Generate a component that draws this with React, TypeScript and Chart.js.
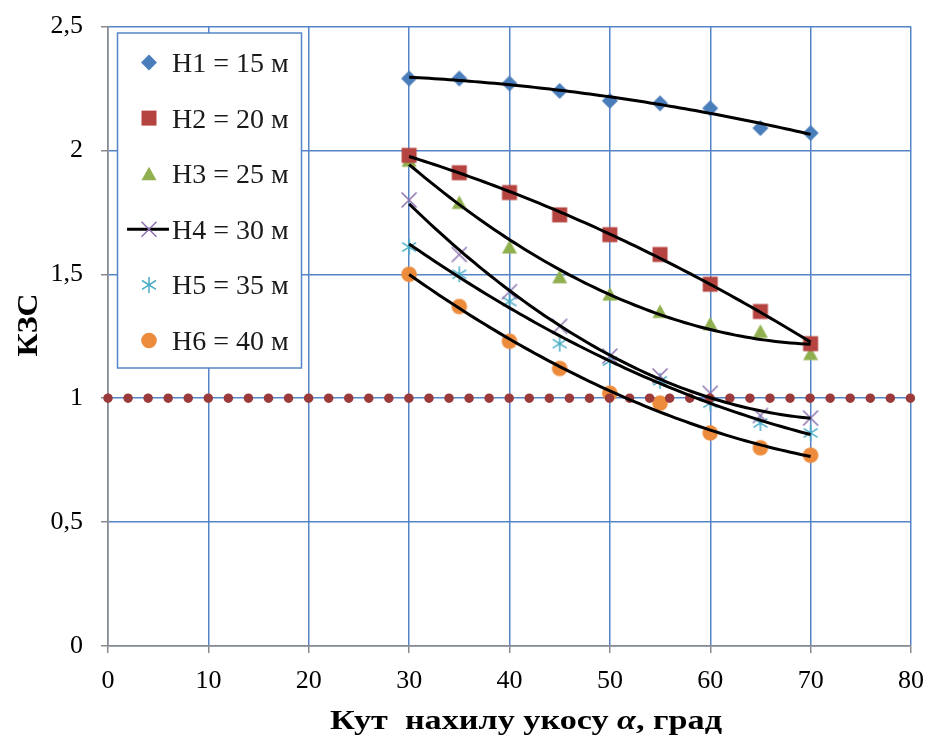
import React, { useEffect, useRef } from 'react';
import { Chart, registerables } from 'chart.js';

Chart.register(...registerables);

// ---------- data ----------
const angles = [30, 35, 40, 45, 50, 55, 60, 65, 70];
const h1 = [2.29, 2.29, 2.27, 2.24, 2.2, 2.19, 2.17, 2.09, 2.07];
const h2 = [1.98, 1.91, 1.83, 1.74, 1.66, 1.58, 1.46, 1.35, 1.22];
const h3 = [1.96, 1.79, 1.61, 1.49, 1.42, 1.35, 1.3, 1.27, 1.18];
const h4 = [1.8, 1.58, 1.43, 1.29, 1.17, 1.09, 1.02, 0.93, 0.92];
const h5 = [1.61, 1.5, 1.39, 1.22, 1.15, 1.07, 0.98, 0.9, 0.86];
const h6 = [1.5, 1.37, 1.23, 1.12, 1.02, 0.98, 0.86, 0.8, 0.77];
const seriesLabels = ['H1 = 15 м', 'H2 = 20 м', 'H3 = 25 м', 'H4 = 30 м', 'H5 = 35 м', 'H6 = 40 м'];
const limitValue = 1;
const xRange = [0, 80];
const yRange = [0, 2.5];
const xTitle = ['Кут  нахилу укосу ', 'α', ', град'];
const yTitle = 'КЗС';

// ---------- styles ----------
const SERIF = "'Liberation Serif', 'Times New Roman', serif";
const colors = ['#4a7ebb', '#b5433f', '#90b050', '#8c72b0', '#4bacc6', '#ec8b3c'];
const markers = ['diamond', 'square', 'triangle', 'x', 'star', 'circle'];
const GRID = '#5585c8';
const AXIS = '#8a8a8a';
const DOT = '#9b3a3a';

function quadFit(xs: number[], ys: number[]) {
  const c = 50;
  let s0 = 0, s1 = 0, s2 = 0, s3 = 0, s4 = 0, t0 = 0, t1 = 0, t2 = 0;
  xs.forEach((x0, i) => {
    const x = x0 - c;
    const y = ys[i];
    s0 += 1; s1 += x; s2 += x * x; s3 += x * x * x; s4 += x * x * x * x;
    t0 += y; t1 += x * y; t2 += x * x * y;
  });
  const A = [
    [s0, s1, s2, t0],
    [s1, s2, s3, t1],
    [s2, s3, s4, t2],
  ];
  for (let i = 0; i < 3; i++) {
    for (let j = i + 1; j < 3; j++) {
      const f = A[j][i] / A[i][i];
      for (let k = i; k < 4; k++) A[j][k] -= f * A[i][k];
    }
  }
  const r = [0, 0, 0];
  for (let i = 2; i >= 0; i--) {
    let s = A[i][3];
    for (let k = i + 1; k < 3; k++) s -= A[i][k] * r[k];
    r[i] = s / A[i][i];
  }
  return (x: number) => r[0] + r[1] * (x - c) + r[2] * (x - c) * (x - c);
}

function trendPoints(xs: number[], ys: number[]) {
  const f = quadFit(xs, ys);
  const pts: { x: number; y: number }[] = [];
  const a = xs[0], b = xs[xs.length - 1];
  for (let x = a; x <= b + 1e-9; x += 0.5) pts.push({ x, y: f(x) });
  return pts;
}

function makeMarkerCanvas(type: string, color: string) {
  const size = 24;
  const c = document.createElement('canvas');
  c.width = size; c.height = size;
  const ctx = c.getContext('2d')!;
  drawMarker(ctx, type, color, size / 2, size / 2);
  return c;
}

function drawMarker(ctx: CanvasRenderingContext2D, type: string, color: string, x: number, y: number) {
  ctx.save();
  ctx.fillStyle = color;
  ctx.strokeStyle = color;
  ctx.beginPath();
  if (type === 'diamond') {
    const r = 8;
    ctx.moveTo(x, y - r); ctx.lineTo(x + r, y); ctx.lineTo(x, y + r); ctx.lineTo(x - r, y);
    ctx.closePath(); ctx.fill();
  } else if (type === 'square') {
    const h = 7.5;
    ctx.rect(x - h, y - h, 2 * h, 2 * h); ctx.fill();
  } else if (type === 'triangle') {
    const w = 7.5, h = 13;
    ctx.moveTo(x, y - h / 2 - 0.5); ctx.lineTo(x + w, y + h / 2); ctx.lineTo(x - w, y + h / 2);
    ctx.closePath(); ctx.fill();
  } else if (type === 'x') {
    const r = 7.5;
    ctx.lineWidth = 1.5;
    ctx.moveTo(x - r, y - r); ctx.lineTo(x + r, y + r);
    ctx.moveTo(x + r, y - r); ctx.lineTo(x - r, y + r);
    ctx.stroke();
  } else if (type === 'star') {
    const r = 8;
    ctx.lineWidth = 1.5;
    ctx.moveTo(x, y - r); ctx.lineTo(x, y + r);
    const dx = r * 0.87, dy = r * 0.55;
    ctx.moveTo(x - dx, y - dy); ctx.lineTo(x + dx, y + dy);
    ctx.moveTo(x + dx, y - dy); ctx.lineTo(x - dx, y + dy);
    ctx.stroke();
  } else if (type === 'circle') {
    ctx.arc(x, y, 7.8, 0, Math.PI * 2); ctx.fill();
  }
  ctx.restore();
}

const overlayPlugin = {
  id: 'overlay',
  afterDraw(chart: any) {
    const ctx: CanvasRenderingContext2D = chart.ctx;
    ctx.save();
    // legend box
    const bx = 117.5, by = 33, bw = 184, bh = 335;
    ctx.fillStyle = '#ffffff';
    ctx.fillRect(bx, by, bw, bh);
    ctx.strokeStyle = GRID;
    ctx.lineWidth = 1.5;
    ctx.strokeRect(bx, by, bw, bh);
    ctx.font = `28px ${SERIF}`;
    ctx.fillStyle = '#1a1a1a';
    ctx.textAlign = 'left';
    ctx.textBaseline = 'alphabetic';
    seriesLabels.forEach((lab, i) => {
      const cy = 62.5 + i * 55.6;
      if (markers[i] === 'x') {
        ctx.save();
        ctx.strokeStyle = '#000';
        ctx.lineWidth = 3;
        ctx.beginPath(); ctx.moveTo(127, cy); ctx.lineTo(169, cy); ctx.stroke();
        ctx.restore();
      }
      drawMarker(ctx, markers[i], colors[i], 149, cy);
      ctx.fillText(lab, 172, cy + 9.5);
    });
    // x title (wide serif, stretched to reference width)
    ctx.fillStyle = '#000';
    const fB = `bold 27px ${SERIF}`;
    const fI = `italic bold 27px ${SERIF}`;
    ctx.font = fB;
    const w0 = ctx.measureText(xTitle[0]).width;
    const w2 = ctx.measureText(xTitle[2]).width;
    ctx.font = fI;
    const w1 = ctx.measureText(xTitle[1]).width;
    const total = w0 + w1 + w2;
    const targetW = 392;
    const sx = targetW / total;
    ctx.save();
    ctx.translate(526 - targetW / 2, 728.5);
    ctx.scale(sx, 1);
    ctx.textAlign = 'left';
    ctx.font = fB;
    ctx.fillText(xTitle[0], 0, 0);
    ctx.font = fI;
    ctx.fillText(xTitle[1], w0, 0);
    ctx.font = fB;
    ctx.fillText(xTitle[2], w0 + w1, 0);
    ctx.restore();
    // y title
    ctx.save();
    ctx.translate(37, 325);
    ctx.rotate(-Math.PI / 2);
    ctx.textAlign = 'center';
    ctx.font = `bold 29px ${SERIF}`;
    ctx.scale(1.1, 1);
    ctx.fillText(yTitle, 0, 0);
    ctx.restore();
    ctx.restore();
  },
};

function pinPadding(s: any) {
  s.paddingTop = 0;
  s.paddingBottom = 0;
  s.paddingLeft = 0;
  s.paddingRight = 0;
}

export default function App() {
  const ref = useRef<HTMLCanvasElement>(null);
  useEffect(() => {
    document.body.style.margin = '0';
    const canvas = ref.current!;
    const seriesData = [h1, h2, h3, h4, h5, h6];
    const markerDatasets = seriesData.map((ys, i) => ({
      label: seriesLabels[i],
      data: angles.map((x, j) => ({ x, y: ys[j] })),
      pointStyle: makeMarkerCanvas(markers[i], colors[i]) as any,
      pointRadius: 8,
      showLine: false,
      order: 2,
    }));
    const trendDatasets = seriesData.map((ys, i) => ({
      label: 'trend ' + seriesLabels[i],
      data: trendPoints(angles, ys),
      showLine: true,
      borderColor: '#000',
      borderWidth: 3,
      pointRadius: 0,
      tension: 0,
      order: 0,
    }));
    const limitDataset = {
      label: 'limit',
      data: [
        { x: xRange[0], y: limitValue },
        { x: xRange[1], y: limitValue },
      ],
      showLine: true,
      borderColor: DOT,
      borderWidth: 9.5,
      borderDash: [0.01, 20.05],
      borderCapStyle: 'round',
      pointRadius: 0,
      clip: 12,
      order: 1,
    };
    const tickFont = { family: SERIF, size: 26 };
    const chart = new Chart(canvas, {
      type: 'scatter',
      data: { datasets: [...trendDatasets, limitDataset as any, ...markerDatasets] },
      options: {
        responsive: false,
        animation: false,
        layout: { padding: { left: 0, right: 19, top: 26.5, bottom: 0 } },
        plugins: { legend: { display: false }, tooltip: { enabled: false } },
        scales: {
          x: {
            type: 'linear',
            min: xRange[0],
            max: xRange[1],
            ticks: { stepSize: 10, font: tickFont, color: '#000', padding: 13 },
            grid: { color: GRID, lineWidth: 1.5, tickLength: 7, tickColor: AXIS, tickWidth: 1.5 },
            border: { color: AXIS, width: 1.5 },
            afterFit: (s: any) => { s.height = 89; pinPadding(s); },
          },
          y: {
            type: 'linear',
            min: yRange[0],
            max: yRange[1],
            ticks: {
              stepSize: 0.5,
              font: tickFont,
              color: '#000',
              padding: 18,
              callback: (v: any) => String(v).replace('.', ','),
            },
            grid: { color: GRID, lineWidth: 1.5, tickLength: 7, tickColor: AXIS, tickWidth: 1.5 },
            border: { color: AXIS, width: 1.5 },
            afterFit: (s: any) => { s.width = 108; pinPadding(s); },
          },
        },
      },
      plugins: [overlayPlugin],
    } as any);
    return () => chart.destroy();
  }, []);
  return (
    <div style={{ width: 930, height: 735, overflow: 'hidden', background: '#fff' }}>
      <canvas ref={ref} width={930} height={735} />
    </div>
  );
}
